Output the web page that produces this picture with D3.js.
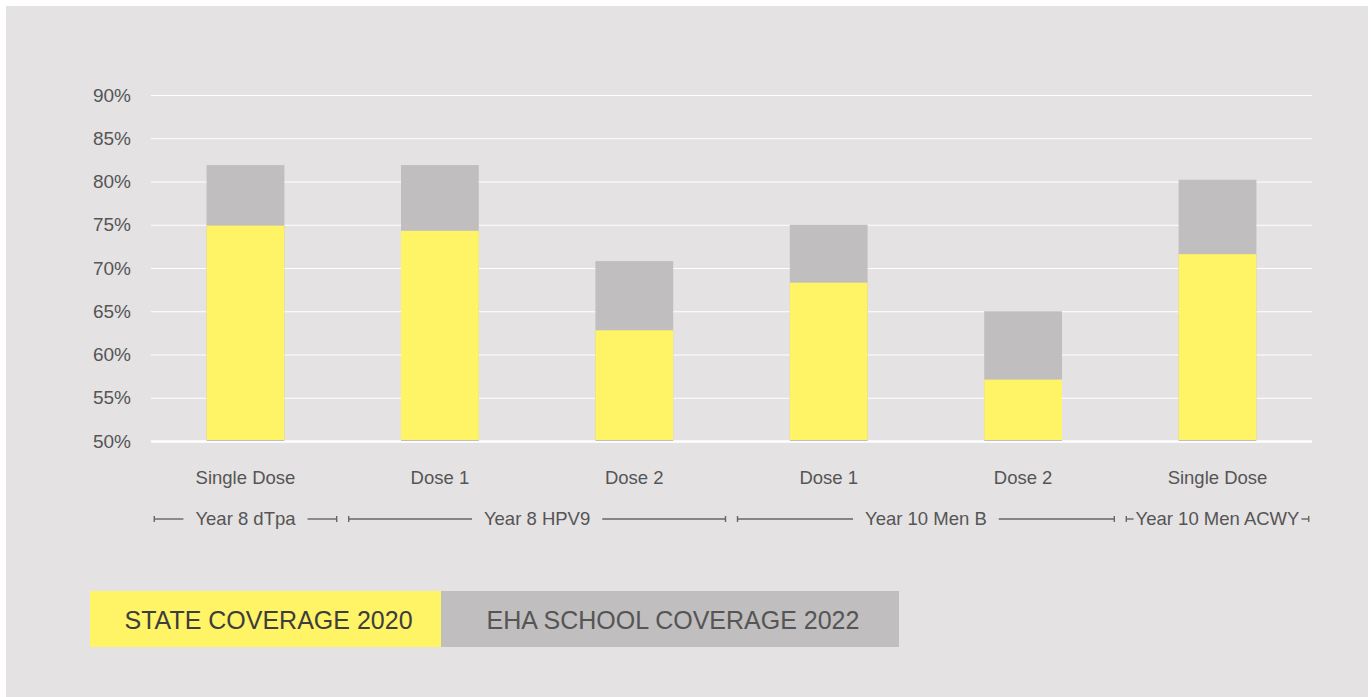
<!DOCTYPE html>
<html>
<head>
<meta charset="utf-8">
<script src="https://cdn.jsdelivr.net/npm/d3@7"></script>
<style>
  body { margin: 0; background: #ffffff; }
  text { font-family: "Liberation Sans", Arial, sans-serif; }
</style>
</head>
<body>
<div id="chart"></div>
<script>
// data
const categories = ["Single Dose", "Dose 1", "Dose 2", "Dose 1", "Dose 2", "Single Dose"];
const state2020 = [74.9, 74.3, 62.8, 68.3, 57.1, 71.6];
const eha2022 = [81.9, 81.9, 70.8, 75.0, 65.0, 80.2];
const groupNames = ["Year 8 dTpa", "Year 8 HPV9", "Year 10 Men B", "Year 10 Men ACWY"];
const groupFirst = [0, 1, 3, 5];
const groupLast = [0, 2, 4, 5];
const yTicks = [50, 55, 60, 65, 70, 75, 80, 85, 90];
const legendLabels = ["STATE COVERAGE 2020", "EHA SCHOOL COVERAGE 2022"];

const W = 1371, H = 697;
const yellow = "#fff366", grey = "#c0bebf", panel = "#e4e2e3";
const plotLeft = 151, plotRight = 1312, plotTop = 95, plotBottom = 441;

const svg = d3.select("#chart").append("svg")
  .attr("width", W).attr("height", H);

svg.append("rect")
  .attr("x", 6).attr("y", 6)
  .attr("width", 1362).attr("height", H - 6)
  .attr("fill", panel);

const x = d3.scaleBand()
  .domain(d3.range(categories.length))
  .range([plotLeft, plotRight])
  .paddingInner(0.6)
  .paddingOuter(0.286);

const y = d3.scaleLinear()
  .domain([50, 90])
  .range([plotBottom, plotTop]);

// gridlines + y labels
const yAxis = svg.append("g")
  .attr("transform", `translate(${plotLeft},0)`)
  .call(d3.axisLeft(y).tickValues(yTicks).tickFormat(d => d + "%")
    .tickSize(-(plotRight - plotLeft)).tickPadding(20));
yAxis.select(".domain").remove();
yAxis.selectAll(".tick line")
  .attr("stroke", "#ffffff")
  .attr("stroke-width", d => d === 50 ? 2.5 : 1.2);
yAxis.selectAll(".tick text")
  .attr("fill", "#555555")
  .style("font-size", "19px")
  .style("font-family", "Liberation Sans, Arial, sans-serif");

// bars: grey 2022 behind, yellow 2020 in front
svg.append("g").selectAll("rect")
  .data(eha2022)
  .join("rect")
  .attr("x", (d, i) => x(i))
  .attr("y", d => y(d))
  .attr("width", x.bandwidth())
  .attr("height", d => y(50) - y(d))
  .attr("fill", grey);

svg.append("g").selectAll("rect")
  .data(state2020)
  .join("rect")
  .attr("x", (d, i) => x(i))
  .attr("y", d => y(d))
  .attr("width", x.bandwidth())
  .attr("height", d => y(50) - y(d) - 1)
  .attr("fill", yellow);

// category labels
svg.append("g").selectAll("text")
  .data(categories)
  .join("text")
  .attr("x", (d, i) => x(i) + x.bandwidth() / 2)
  .attr("y", 484)
  .attr("text-anchor", "middle")
  .attr("fill", "#555555")
  .style("font-size", "18.5px")
  .text(d => d);

// group brackets
const half = x.step() * x.paddingInner() / 2;
const inset = 6, by = 519, tick = 3;
const gb = svg.append("g");
groupNames.forEach((name, g) => {
  const x0 = x(groupFirst[g]) - half + inset;
  const x1 = x(groupLast[g]) + x.bandwidth() + half - inset;
  const cx = (x0 + x1) / 2;
  const t = gb.append("text")
    .attr("x", cx).attr("y", by + 6)
    .attr("text-anchor", "middle")
    .attr("fill", "#555555")
    .style("font-size", "18.5px")
    .text(name);
  const tw = t.node().getComputedTextLength();
  const gap = Math.max(2, Math.min(12, ((x1 - x0) - tw) / 2 - 8));
  const segs = [[x0, cx - tw / 2 - gap], [cx + tw / 2 + gap, x1]];
  segs.forEach(s => {
    gb.append("line")
      .attr("x1", s[0]).attr("x2", s[1]).attr("y1", by).attr("y2", by)
      .attr("stroke", "#666666").attr("stroke-width", 1.4);
  });
  [x0, x1].forEach(px => {
    gb.append("line")
      .attr("x1", px).attr("x2", px).attr("y1", by - tick).attr("y2", by + tick)
      .attr("stroke", "#666666").attr("stroke-width", 1.4);
  });
});

// legend
const legX = [90, 441], legW = [351, 458];
const leg = svg.append("g");
legendLabels.forEach((lab, i) => {
  leg.append("rect")
    .attr("x", legX[i]).attr("y", 591)
    .attr("width", legW[i]).attr("height", 56)
    .attr("fill", i === 0 ? yellow : grey);
  leg.append("text")
    .attr("x", legX[i] + legW[i] / 2 + 3).attr("y", 629)
    .attr("text-anchor", "middle")
    .attr("fill", i === 0 ? "#3d3d3d" : "#555555")
    .style("font-size", "25px")
    .text(lab);
});
</script>
</body>
</html>
